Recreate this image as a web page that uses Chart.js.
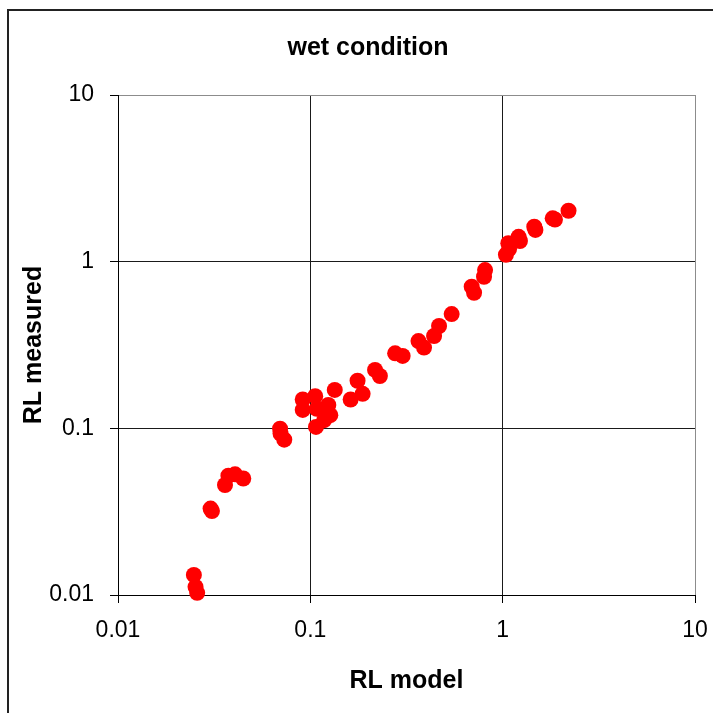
<!DOCTYPE html>
<html>
<head>
<meta charset="utf-8">
<script src="https://cdn.jsdelivr.net/npm/chart.js@4/dist/chart.umd.min.js"></script>
<style>
  html, body { margin: 0; padding: 0; background: #fff; overflow: hidden; }
  #wrap { position: relative; width: 713px; height: 713px; overflow: hidden; }
  #chart { position: absolute; left: 0; top: 0; }
  #frame { position: absolute; left: 7px; top: 9px; width: 780px; height: 780px;
           border: 2px solid #222; pointer-events: none; }
</style>
</head>
<body>
<div id="wrap">
  <canvas id="chart" width="736" height="713"></canvas>
  <div id="frame"></div>
</div>
<script>
// --- DATA ---
const rlModel = [
  0.0248, 0.0253, 0.0258, 0.0303, 0.0308, 0.0360, 0.0375, 0.0406, 0.0448,
  0.0696, 0.0700, 0.0732, 0.0913, 0.0913, 0.106, 0.108, 0.107, 0.124, 0.127,
  0.118, 0.134, 0.162, 0.176, 0.187, 0.217, 0.230, 0.276, 0.302, 0.365,
  0.390, 0.440, 0.467, 0.543, 0.690, 0.710, 0.800, 0.810, 1.04, 1.08, 1.07,
  1.21, 1.23, 1.46, 1.48, 1.82, 1.87, 2.20
];
const rlMeasured = [
  0.0132, 0.0112, 0.0103, 0.0330, 0.0319, 0.0457, 0.0520, 0.0530, 0.0500,
  0.0995, 0.0930, 0.0855, 0.149, 0.129, 0.156, 0.131, 0.102, 0.138, 0.120,
  0.112, 0.170, 0.149, 0.193, 0.161, 0.224, 0.206, 0.282, 0.272, 0.334,
  0.305, 0.358, 0.411, 0.485, 0.708, 0.651, 0.812, 0.890, 1.10, 1.19, 1.29,
  1.41, 1.33, 1.62, 1.55, 1.82, 1.79, 2.02
];
const tickValues = [0.01, 0.1, 1, 10];
const tickLabels = ['0.01', '0.1', '1', '10'];

const FONT = "'Liberation Sans', Arial, sans-serif";

// grid: black inside, grey on the top/right edge of the plot
function gridColor(ctx) {
  return ctx.tick && ctx.tick.value === 10 ? '#8c8c8c' : '#1a1a1a';
}

function axis(titleText, titlePad, size) {
  return {
    type: 'logarithmic',
    min: 0.01,
    max: 10,
    afterBuildTicks: (scale) => { scale.ticks = tickValues.map(v => ({ value: v })); },
    afterFit: size,
    ticks: {
      autoSkip: false,
      maxRotation: 0,
      padding: 14,
      color: '#000',
      font: { family: FONT, size: 23 },
      callback: (v, i) => tickLabels[i]
    },
    grid: { color: gridColor, tickColor: '#000', tickLength: 8, lineWidth: 1 },
    border: { color: '#000', width: 1 },
    title: {
      display: true,
      text: titleText,
      color: '#000',
      font: { family: FONT, size: 25, weight: 'bold' },
      padding: titlePad
    }
  };
}

const xAxis = axis('RL model', { top: 0, bottom: 17 }, s => { s.height = 118; });
xAxis.position = 'bottom';
const yAxis = axis('RL measured', { top: 19, bottom: 0 }, s => { s.width = 118; });
yAxis.position = 'left';
yAxis.ticks.padding = 16;

// empty strip on the right so the chart title centres on the whole frame
const spacer = {
  type: 'linear',
  position: 'right',
  afterFit: s => { s.width = 41; },
  ticks: { display: false },
  grid: { display: false, drawTicks: false },
  border: { display: false },
  title: { display: false }
};

new Chart(document.getElementById('chart'), {
  type: 'scatter',
  data: {
    datasets: [{
      label: 'wet',
      data: rlModel.map((x, i) => ({ x: x, y: rlMeasured[i] })),
      backgroundColor: '#ff0000',
      borderColor: '#ff0000',
      borderWidth: 0,
      pointRadius: 8,
      pointHoverRadius: 8,
      clip: false
    }]
  },
  options: {
    responsive: false,
    animation: false,
    layout: { padding: 0 },
    plugins: {
      legend: { display: false },
      tooltip: { enabled: false },
      title: {
        display: true,
        text: 'wet condition',
        color: '#000',
        font: { family: FONT, size: 25, weight: 'bold' },
        padding: { top: 33, bottom: 32 }
      }
    },
    scales: { x: xAxis, y: yAxis, spacer: spacer }
  }
});
</script>
</body>
</html>
